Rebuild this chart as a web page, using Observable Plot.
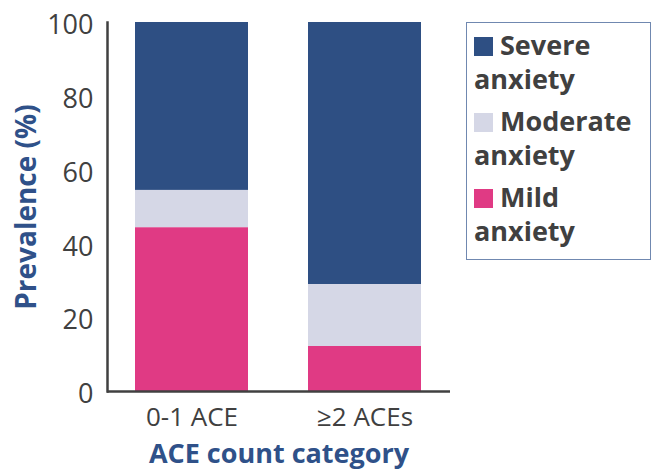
<!DOCTYPE html>
<html>
<head>
<meta charset="utf-8">
<script src="https://cdn.jsdelivr.net/npm/d3@7"></script>
<script src="https://cdn.jsdelivr.net/npm/@observablehq/plot@0.6"></script>
<style>
  html, body { margin: 0; padding: 0; background: #fff; }
  #wrap { position: relative; width: 665px; height: 470px; font-family: "Open Sans", sans-serif; }
  #wrap svg { color: #404040; }
  #legend {
    position: absolute; left: 466px; top: 22px; width: 176px; height: 231px;
    border: 1.5px solid #7088b0; padding: 5px 0 0 7px; box-sizing: content-box;
    font-family: "Open Sans", sans-serif; font-weight: 700; font-size: 27px;
    color: #404040; line-height: 34px;
  }
  #legend .item { margin-bottom: 8px; }
  #legend .sw { display: inline-block; width: 19px; height: 19px; margin-right: 7px; vertical-align: -1px; }
</style>
</head>
<body>
<div id="wrap"></div>
<script>
const categories = ["0-1 ACE", "≥2 ACEs"];
const severity = ["Mild anxiety", "Moderate anxiety", "Severe anxiety"];
const mild = [44.4, 12.2];
const moderate = [10.1, 16.8];
const severe = [45.5, 71.0];
const yTicks = [0, 20, 40, 60, 80, 100];
const colors = ["#e03a84", "#d5d7e6", "#2e4f83"];
const legendOrder = ["Severe anxiety", "Moderate anxiety", "Mild anxiety"];

const series = [mild, moderate, severe];
const rows = [];
categories.forEach((c, i) => {
  severity.forEach((s, j) => rows.push({category: c, severity: s, value: series[j][i]}));
});

const titleColor = "#2f5189";

const chart = Plot.plot({
  width: 665,
  height: 470,
  marginLeft: 107,
  marginRight: 215,
  marginTop: 22,
  marginBottom: 79,
  style: {fontFamily: "Open Sans, sans-serif", background: "transparent"},
  x: {domain: categories, paddingInner: 0.345, paddingOuter: 0.16, label: null},
  y: {domain: [0, 100], label: null},
  color: {domain: severity, range: colors},
  marks: [
    Plot.barY(rows, {x: "category", y: "value", fill: "severity", order: severity}),
    Plot.axisY({ticks: yTicks, tickSize: 0, tickPadding: 14, fontSize: 27, dy: 3, label: null}),
    Plot.axisX({tickSize: 0, tickPadding: 16, fontSize: 26, label: null}),
    Plot.ruleY([0], {stroke: "#404040", strokeWidth: 2.5}),
    Plot.frame({anchor: "left", stroke: "#404040", strokeWidth: 2.5}),
    Plot.text(["Prevalence (%)"], {frameAnchor: "left", textAnchor: "middle", rotate: -90, dx: -80, fontSize: 28, fontWeight: "bold", fill: titleColor}),
    Plot.text(["ACE count category"], {frameAnchor: "bottom", textAnchor: "middle", dy: 71, fontSize: 27, fontWeight: "bold", fill: titleColor})
  ]
});

const wrap = document.getElementById("wrap");
wrap.appendChild(chart);

const legend = document.createElement("div");
legend.id = "legend";
legendOrder.forEach(name => {
  const idx = severity.indexOf(name);
  const parts = name.split(" ");
  const item = document.createElement("div");
  item.className = "item";
  const sw = document.createElement("span");
  sw.className = "sw";
  sw.style.background = colors[idx];
  item.appendChild(sw);
  item.appendChild(document.createTextNode(parts[0]));
  item.appendChild(document.createElement("br"));
  item.appendChild(document.createTextNode(parts.slice(1).join(" ")));
  legend.appendChild(item);
});
wrap.appendChild(legend);
</script>
</body>
</html>
